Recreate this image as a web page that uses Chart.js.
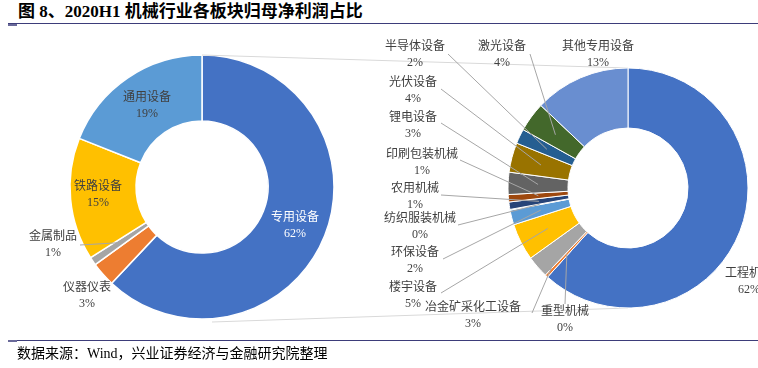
<!DOCTYPE html>
<html>
<head>
<meta charset="utf-8">
<script src="https://cdn.jsdelivr.net/npm/chart.js@4.4.0/dist/chart.umd.min.js"></script>
<style>
  html, body { margin: 0; padding: 0; background: #fff; }
  #wrap { position: relative; width: 758px; height: 368px; overflow: hidden;
          font-family: "Liberation Serif", "Noto Sans CJK SC", serif; }
  #title { position: absolute; left: 18px; top: 3px; font-size: 17px; line-height: 17px;
           font-weight: bold; color: #000; white-space: nowrap; }
  .rule { position: absolute; left: 8px; right: 0; height: 1px; background: #3d3d7a; }
  .mark { position: absolute; left: 8px; width: 9px; height: 2px; background: #6a6a9a; }
  #source { position: absolute; left: 17px; top: 347px; font-size: 14px; line-height: 14px;
            color: #000; white-space: nowrap; }
  canvas { position: absolute; left: 0; top: 0; }
</style>
</head>
<body>
<div id="wrap">
  <div id="title">图 8、2020H1 机械行业各板块归母净利润占比</div>
  <div class="rule" style="top:23px"></div>
  <div class="mark" style="top:24px"></div>
  <canvas id="leftChart" width="758" height="368"></canvas>
  <canvas id="rightChart" width="758" height="368"></canvas>
  <div class="rule" style="top:340px"></div>
  <div class="mark" style="top:340px"></div>
  <div id="source">数据来源：Wind，兴业证券经济与金融研究院整理</div>
</div>
<script>
// ===== data =====
const leftNames = ['专用设备', '仪器仪表', '金属制品', '铁路设备', '通用设备'];
const leftValues = [62, 3, 1, 15, 19];
const leftColors = ['#4472C4', '#ED7D31', '#A5A5A5', '#FFC000', '#5B9BD5'];

const rightNames = ['工程机械', '重型机械', '冶金矿采化工设备', '楼宇设备', '环保设备', '纺织服装机械',
  '农用机械', '印刷包装机械', '锂电设备', '光伏设备', '半导体设备', '激光设备', '其他专用设备'];
const rightValues = [62, 0.4, 3, 5, 2, 0.1, 1, 1, 3, 4, 2, 4, 13];
const rightColors = ['#4472C4', '#ED7D31', '#A5A5A5', '#FFC000', '#5B9BD5', '#70AD47',
  '#264478', '#9E480E', '#636363', '#997300', '#255E91', '#43682B', '#698ED0'];

// label placement: text centre (x, y of first line), optional leader start (lx, ly)
const leftLabelPos = [
  { x: 295, y: 218, color: '#fff' },
  { x: 87, y: 288 },
  { x: 53, y: 237, lx: 80, ly: 245 },
  { x: 98, y: 187 },
  { x: 147, y: 98 },
];
const rightLabelPos = [
  { x: 749, y: 274 },
  { x: 565, y: 312, lx: 565, ly: 304 },
  { x: 473, y: 308, lx: 532, ly: 313 },
  { x: 413, y: 288, lx: 441, ly: 293 },
  { x: 415, y: 253, lx: 443, ly: 259 },
  { x: 420, y: 219, lx: 458, ly: 225 },
  { x: 415, y: 189, lx: 441, ly: 195 },
  { x: 422, y: 155, lx: 460, ly: 160 },
  { x: 413, y: 118, lx: 441, ly: 123 },
  { x: 413, y: 83, lx: 441, ly: 89 },
  { x: 415, y: 47, lx: 448, ly: 54 },
  { x: 502, y: 47, lx: 530, ly: 54 },
  { x: 598, y: 47 },
];

const LABEL_FONT = '12px "Liberation Serif", "Noto Sans CJK SC"';

// data labels with leader lines
const sliceLabels = {
  id: 'sliceLabels',
  afterDatasetsDraw(chart, args, opts) {
    const ctx = chart.ctx;
    const arcs = chart.getDatasetMeta(0).data;
    const values = chart.data.datasets[0].data;
    ctx.save();
    ctx.font = LABEL_FONT;
    ctx.textAlign = 'center';
    ctx.textBaseline = 'middle';
    opts.layout.forEach((p, i) => {
      if (p.lx != null) {
        const c = arcs[i].getCenterPoint();
        ctx.strokeStyle = '#A6A6A6';
        ctx.lineWidth = 1;
        ctx.beginPath();
        ctx.moveTo(p.lx, p.ly);
        ctx.lineTo(c.x, c.y);
        ctx.stroke();
      }
      ctx.fillStyle = p.color || '#404040';
      ctx.fillText(chart.data.labels[i], p.x, p.y);
      ctx.fillText(Math.round(values[i]) + '%', p.x, p.y + 16);
    });
    ctx.restore();
  },
};

let leftChart = null;

// grey lines joining the two rings
const connectors = {
  id: 'connectors',
  beforeDatasetsDraw(chart) {
    if (!leftChart) return;
    const a = leftChart.getDatasetMeta(0).data[0];
    const b = chart.getDatasetMeta(0).data[0];
    const ctx = chart.ctx;
    ctx.save();
    ctx.strokeStyle = '#D9D9D9';
    ctx.lineWidth = 1;
    ctx.beginPath();
    ctx.moveTo(a.x, a.y - a.outerRadius);
    ctx.lineTo(b.x, b.y - b.outerRadius);
    ctx.moveTo(a.x + 10, a.y + a.outerRadius + 3);
    ctx.lineTo(b.x, b.y + b.outerRadius);
    ctx.stroke();
    ctx.restore();
  },
};

function makeDoughnut(id, names, values, colors, radius, padding, border, layout, extra) {
  return new Chart(document.getElementById(id).getContext('2d'), {
    type: 'doughnut',
    data: {
      labels: names,
      datasets: [{
        data: values,
        backgroundColor: colors,
        borderColor: '#fff',
        borderWidth: border,
      }],
    },
    options: {
      responsive: false,
      animation: false,
      radius: radius,
      cutout: '50%',
      layout: { padding: padding },
      plugins: {
        legend: { display: false },
        tooltip: { enabled: false },
        sliceLabels: { layout: layout },
      },
    },
    plugins: [sliceLabels].concat(extra || []),
  });
}

leftChart = makeDoughnut('leftChart', leftNames, leftValues, leftColors, 132,
  { left: 67, right: 421, top: 52, bottom: 46 }, 1.5, leftLabelPos);

makeDoughnut('rightChart', rightNames, rightValues, rightColors, 120,
  { left: 506, right: 8, top: 66, bottom: 58 }, 1, rightLabelPos, [connectors]);
</script>
</body>
</html>
